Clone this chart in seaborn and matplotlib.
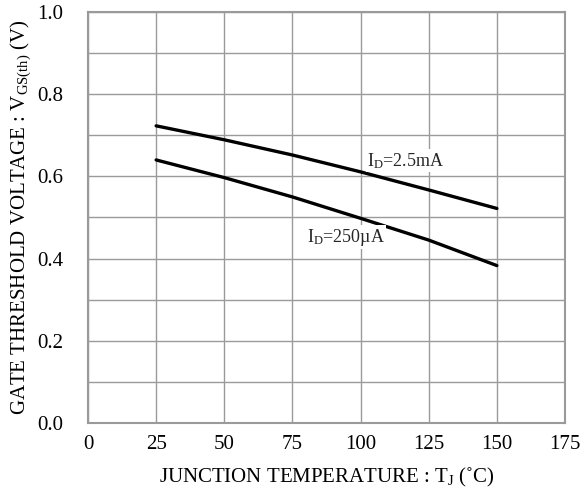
import matplotlib
matplotlib.use("Agg")
import matplotlib.pyplot as plt
import seaborn as sns
import pandas as pd
from matplotlib.ticker import MultipleLocator

temps = [25, 50, 75, 100, 125, 150]
vth_2p5mA = [0.723, 0.689, 0.652, 0.611, 0.567, 0.522]
vth_250uA = [0.640, 0.597, 0.550, 0.498, 0.445, 0.383]
series_names = ["I_D=2.5mA", "I_D=250uA"]
x_ticks = [0, 25, 50, 75, 100, 125, 150, 175]
y_ticks = [0.0, 0.2, 0.4, 0.6, 0.8, 1.0]

df = pd.DataFrame({
    "T": temps * 2,
    "V": vth_2p5mA + vth_250uA,
    "series": [series_names[0]] * len(temps) + [series_names[1]] * len(temps),
})

sns.set_theme(style="white")
plt.rcParams["font.family"] = ["Liberation Serif", "DejaVu Serif"]
plt.rcParams["mathtext.fontset"] = "custom"
plt.rcParams["mathtext.rm"] = "Liberation Serif"
plt.rcParams["mathtext.it"] = "Liberation Serif:italic"

fig = plt.figure(figsize=(5.84, 4.93), dpi=100)
ax = fig.add_axes([0.1507, 0.142, 0.8168, 0.8337])

sns.lineplot(data=df, x="T", y="V", hue="series", palette=["black", "black"],
             linewidth=2.4, legend=False, ax=ax, zorder=3)

ax.set_xlim(0, 175)
ax.set_ylim(0, 1.0)
ax.set_xticks(x_ticks)
ax.set_yticks(y_ticks)
ax.set_xticklabels([str(t) for t in x_ticks])
ax.set_yticklabels([f"{t:.1f}" for t in y_ticks])
ax.yaxis.set_minor_locator(MultipleLocator(0.1))

grid_c = "#9a9a9a"
ax.grid(True, which="major", color=grid_c, linewidth=1.0, zorder=0)
ax.grid(True, which="minor", axis="y", color=grid_c, linewidth=1.0, zorder=0)
ax.set_axisbelow(True)
for s in ax.spines.values():
    s.set_color(grid_c)
    s.set_linewidth(1.5)
ax.tick_params(which="major", direction="in", length=5, width=1.2, color=grid_c,
               labelsize=15, labelcolor="black")
ax.tick_params(axis="y", which="major", pad=18)
ax.tick_params(axis="x", which="major", pad=9)
ax.tick_params(which="minor", length=0)

ax.set_xlabel(r"JUNCTION TEMPERATURE : T$_{\rm J}$ (˚C)", fontsize=15, color="black", labelpad=8)
ax.set_ylabel(r"GATE THRESHOLD VOLTAGE : V$_{\rm GS(th)}$ (V)", fontsize=15, color="black", labelpad=3)

ax.text(102.5, 0.638, r"I$_{\rm D}$=2.5mA", fontsize=13, va="center", ha="left",
        bbox=dict(facecolor="white", edgecolor="none", pad=1), zorder=4)
ax.text(80.3, 0.452, r"I$_{\rm D}$=250µA", fontsize=13, va="center", ha="left",
        bbox=dict(facecolor="white", edgecolor="none", pad=1), zorder=4)

fig.savefig("out.png", dpi=100)
